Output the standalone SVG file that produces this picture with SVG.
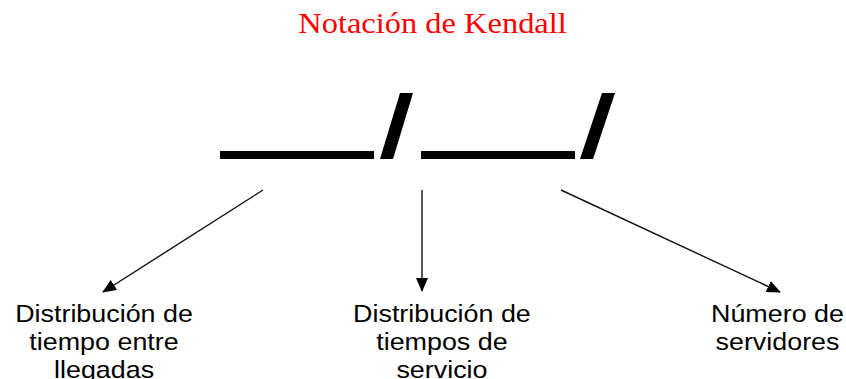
<svg xmlns="http://www.w3.org/2000/svg" width="846" height="379" viewBox="0 0 846 379">
<style>
.t{font-family:"Liberation Sans",Arial,sans-serif;font-size:24px;fill:#000;text-anchor:middle}
.title{font-family:"Liberation Serif","Times New Roman",serif;font-size:29px;fill:#ff0000;text-anchor:middle}
.c{stroke:#111;stroke-width:1.4;fill:none}
.bar{fill:#000}
</style>
<defs>
<marker id="ah" markerWidth="14" markerHeight="12" refX="13" refY="6" orient="auto" markerUnits="userSpaceOnUse">
<path d="M0,0 L14,6 L0,12 Z" fill="#000"/>
</marker>
</defs>
<rect width="846" height="379" fill="#fff"/>
<g id="title" transform="scale(1.12,1)">
<text class="title" x="386.2" y="33">Notación de Kendall</text>
</g>
<g id="notation">
<rect class="bar" x="220" y="151" width="154" height="8"/>
<polygon class="bar" points="380,159 393,159 413,93 400,93"/>
<rect class="bar" x="421" y="151" width="154" height="8"/>
<polygon class="bar" points="580,159 593,159 615,93 602,93"/>
</g>
<g id="connectors">
<line class="c" x1="263" y1="190" x2="103" y2="292" marker-end="url(#ah)"/>
<line class="c" x1="422" y1="190" x2="422" y2="291" marker-end="url(#ah)"/>
<line class="c" x1="561" y1="190" x2="780" y2="292" marker-end="url(#ah)"/>
</g>
<g id="interarrival" transform="scale(1.12,1)">
<text class="t" x="92.9" y="322">Distribución de</text>
<text class="t" x="92.9" y="350">tiempo entre</text>
<text class="t" x="92.9" y="378">llegadas</text>
</g>
<g id="service" transform="scale(1.12,1)">
<text class="t" x="394.6" y="322">Distribución de</text>
<text class="t" x="394.6" y="350">tiempos de</text>
<text class="t" x="394.6" y="378">servicio</text>
</g>
<g id="servers" transform="scale(1.12,1)">
<text class="t" x="694.2" y="322">Número de</text>
<text class="t" x="694.2" y="350">servidores</text>
</g>
</svg>
